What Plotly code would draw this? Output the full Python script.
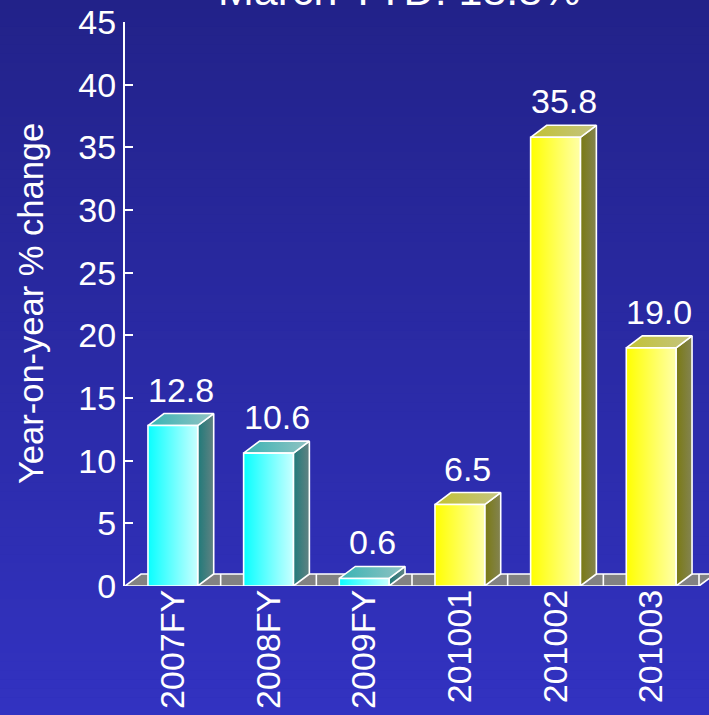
import plotly.graph_objects as go

# ---- data ----
categories = ["2007FY", "2008FY", "2009FY", "201001", "201002", "201003"]
values = [12.8, 10.6, 0.6, 6.5, 35.8, 19.0]
groups = ["fy", "fy", "fy", "month", "month", "month"]
title_text = "March YTD: 18.8%"
y_title = "Year-on-year % change"
y_ticks = [0, 5, 10, 15, 20, 25, 30, 35, 40, 45]

# ---- style ----
FONT = "Liberation Sans, Arial, sans-serif"
W, H = 709, 715
ML, MR, MT, MB = 125, 0, 22, 129
PLOT_W = W - ML - MR
PLOT_H = H - MT - MB
CAT_PX = 574 / 6.0
Y_MAX = 45
Y_PX = PLOT_H / Y_MAX
DX = 16 / CAT_PX       # depth offset in category units
DY = 12 / Y_PX         # depth offset in value units
BW = 0.52              # front-face width in category units
X0 = -0.5
X1 = X0 + PLOT_W / CAT_PX

palette = {
    "fy": {
        "front": [[0, "#08ffff"], [1, "#c8ffff"]],
        "side": [[0, "#1f7a7a"], [1, "#628282"]],
        "top": [[0, "#38b4b4"], [1, "#92c2c2"]],
    },
    "month": {
        "front": [[0, "#ffff00"], [1, "#ffffa8"]],
        "side": [[0, "#7a7a12"], [1, "#838352"]],
        "top": [[0, "#c2c232"], [1, "#c4c482"]],
    },
}

fig = go.Figure()

# background gradient strips
top_rgb = (34, 34, 137)
bot_rgb = (50, 50, 193)
N = 80
shapes = []
for k in range(N):
    p0 = H * k / N
    p1 = H * (k + 1) / N + 0.6
    t = (k + 0.5) / N
    c = tuple(round(top_rgb[j] + (bot_rgb[j] - top_rgb[j]) * t) for j in range(3))
    shapes.append(dict(
        type="rect", xref="paper", yref="paper", layer="below",
        x0=-ML / PLOT_W - 0.01, x1=1.01,
        y0=(H - MB - p1) / PLOT_H, y1=(H - MB - p0) / PLOT_H,
        fillcolor="rgb(%d,%d,%d)" % c, line=dict(width=0),
    ))

EDGE = dict(color="white", width=1.6)

# floor
fig.add_trace(go.Scatter(
    x=[X0, X0 + len(categories), X0 + len(categories) + DX, X0 + DX, X0],
    y=[0, 0, DY, DY, 0], mode="lines", fill="toself",
    fillcolor="#828282", line=EDGE, hoverinfo="skip", showlegend=False,
))
for k in range(1, len(categories) + 1):
    xb = X0 + k
    fig.add_trace(go.Scatter(
        x=[xb, xb], y=[0, DY], mode="lines", line=EDGE,
        hoverinfo="skip", showlegend=False,
    ))

# bars
for i, (v, g) in enumerate(zip(values, groups)):
    xl, xr = i - BW / 2, i + BW / 2
    pal = palette[g]
    faces = [
        ("side", [xr, xr + DX, xr + DX, xr, xr], [0, DY, v + DY, v, 0]),
        ("top", [xl, xr, xr + DX, xl + DX, xl], [v, v, v + DY, v + DY, v]),
        ("front", [xl, xr, xr, xl, xl], [0, 0, v, v, 0]),
    ]
    for name, fx, fy in faces:
        fig.add_trace(go.Scatter(
            x=fx, y=fy, mode="lines", fill="toself",
            fillgradient=dict(type="horizontal", colorscale=pal[name]),
            line=EDGE, hoverinfo="skip", showlegend=False,
        ))

annotations = []
for i, v in enumerate(values):
    annotations.append(dict(
        x=i + DX / 2, y=v + DY, xref="x", yref="y",
        text="%.1f" % v, showarrow=False, yanchor="bottom", yshift=3,
        font=dict(family=FONT, size=34, color="white"),
    ))

annotations.append(dict(
    x=(399 - ML) / PLOT_W, y=1 + (MT - 16) / PLOT_H, xref="paper", yref="paper",
    text=title_text, showarrow=False, xanchor="center", yanchor="bottom",
    font=dict(family=FONT, size=43, color="white"),
))
annotations.append(dict(
    x=(31 - ML) / PLOT_W, y=0.5, xref="paper", yref="paper",
    text=y_title, showarrow=False, xanchor="center", yanchor="middle",
    textangle=-90, font=dict(family=FONT, size=34.5, color="white"),
))

fig.update_layout(
    width=W, height=H,
    margin=dict(l=ML, r=MR, t=MT, b=MB, pad=0),
    paper_bgcolor="#2a2aa5", plot_bgcolor="rgba(0,0,0,0)",
    shapes=shapes, annotations=annotations, showlegend=False,
    font=dict(family=FONT, color="white"),
    xaxis=dict(
        range=[X0, X1], tickmode="array", tickvals=list(range(len(categories))),
        ticktext=categories, tickangle=-90, showgrid=False, zeroline=False,
        showline=False, ticks="", ticklabelstandoff=-4,
        tickfont=dict(family=FONT, size=34, color="white"),
        fixedrange=True,
    ),
    yaxis=dict(
        range=[0, Y_MAX], tickmode="array", tickvals=y_ticks,
        showgrid=False, zeroline=False, showline=True, linecolor="white",
        linewidth=2, ticks="inside", ticklen=8, tickwidth=2, tickcolor="white",
        tickfont=dict(family=FONT, size=34, color="white"), fixedrange=True,
    ),
)

fig.write_html("out.html")
